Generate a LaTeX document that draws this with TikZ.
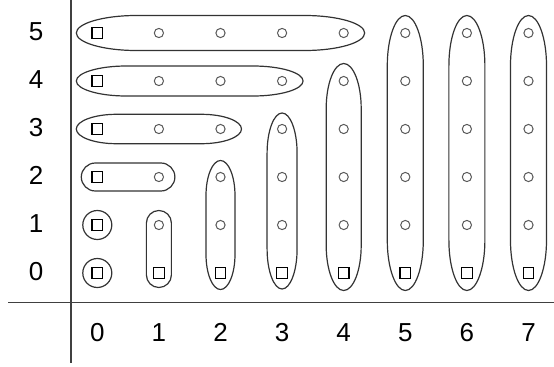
\documentclass[tikz,border=0pt]{standalone}
\usepackage{fontspec}
\setmainfont{Liberation Sans}
\usetikzlibrary{calc}

% outline round a run of points: length, half width, tip distance, cap length
\newcommand{\capsule}[4]{%
\draw[ring] (-#3,0) .. controls (-#3,{0.55*#2}) and ({-#3+0.45*#4},#2) .. ({-#3+#4},#2)
  -- ({#1+#3-#4},#2) .. controls ({#1+#3-0.45*#4},#2) and ({#1+#3},{0.55*#2}) .. ({#1+#3},0)
  .. controls ({#1+#3},{-0.55*#2}) and ({#1+#3-0.45*#4},-#2) .. ({#1+#3-#4},-#2)
  -- ({-#3+#4},-#2) .. controls ({-#3+0.45*#4},-#2) and (-#3,{-0.55*#2}) .. cycle;
}

\tikzset{
  sq/.style={rectangle, draw=black, line width=0.6pt, minimum size=5.3pt, inner sep=0pt},
  ci/.style={circle, draw=black!65, line width=0.5pt, minimum size=4.6pt, inner sep=0pt},
  ring/.style={draw=black!80, line width=0.6pt},
  lab/.style={font=\fontsize{13}{15}\selectfont, inner sep=0pt, text height=0.72em, text depth=0pt},
  axis/.style={draw=black!75, line width=0.65pt}
}

\begin{document}
\begin{tikzpicture}[x=0.5pt, y=0.5pt]
\def\dx{61.6}
\def\dy{48}
\useasboundingbox (0,0) rectangle (554,366);

% axes
\coordinate (ytop) at (71,366);
\coordinate (ybot) at (71,3.5);
\coordinate (xl) at (8.5,63.5);
\coordinate (xr) at (554,63.5);
\draw[axis] (ytop) -- (ybot);
\draw[axis] (xl) -- (xr);

% points
\foreach \i in {0,...,7} {
  \foreach \j in {0,...,5} {
    \ifnum\i=0 \def\s{sq}\else\ifnum\j=0 \def\s{sq}\else\def\s{ci}\fi\fi
    \node[\s] (p-\i-\j) at ({\i*\dx+97.3},{\j*\dy+93}) {};
  }
}

% labels
\foreach \j in {0,...,5}
  \node[lab] (r-\j) at (36,{\j*\dy+93}) {\j};
\foreach \i in {0,...,7}
  \node[lab] (c-\i) at ({\i*\dx+97.3},32) {\i};

% rows
\draw[ring] (p-0-0.center) circle [radius=14.5];
\draw[ring] (p-0-1.center) circle [radius=14.5];
\begin{scope}[shift={(p-0-2.center)}] \capsule{61.6}{14}{16}{14} \end{scope}
\begin{scope}[shift={(p-0-3.center)}] \capsule{123.2}{14.7}{21}{40} \end{scope}
\begin{scope}[shift={(p-0-4.center)}] \capsule{184.8}{15}{21}{50} \end{scope}
\begin{scope}[shift={(p-0-5.center)}] \capsule{246.4}{17.5}{21}{60} \end{scope}

% columns
\begin{scope}[shift={(p-1-0.center)}, rotate=90] \capsule{48}{12.5}{14.5}{12.5} \end{scope}
\begin{scope}[shift={(p-2-0.center)}, rotate=90] \capsule{96}{14.5}{16.5}{35} \end{scope}
\begin{scope}[shift={(p-3-0.center)}, rotate=90] \capsule{144}{15}{16}{40} \end{scope}
\begin{scope}[shift={(p-4-0.center)}, rotate=90] \capsule{192}{17.5}{17.5}{45} \end{scope}
\foreach \i in {5,6,7} {
  \begin{scope}[shift={(p-\i-0.center)}, rotate=90] \capsule{240}{18}{17.5}{50} \end{scope}
}

\end{tikzpicture}
\end{document}
